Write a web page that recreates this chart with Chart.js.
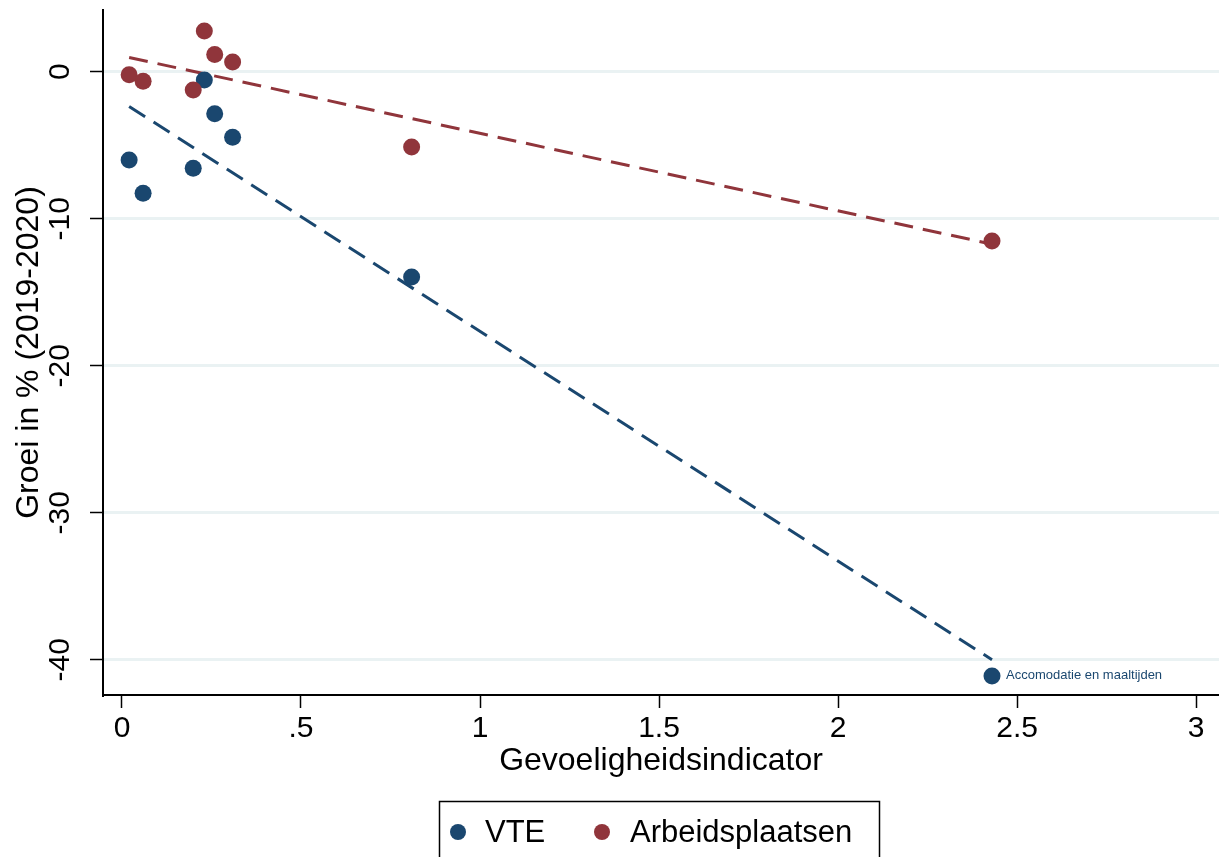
<!DOCTYPE html>
<html><head><meta charset="utf-8">
<script src="https://cdn.jsdelivr.net/npm/chart.js@4"></script>
<style>html,body{margin:0;padding:0;background:#fff;overflow:hidden}</style>
</head><body>
<canvas id="c" width="1219" height="857"></canvas>
<script>
// ---- data ----
const xValues = [0.02, 0.059, 0.23, 0.259, 0.309, 0.199, 0.809, 2.43];
const vteValues = [-6.0, -8.27, -0.56, -2.86, -4.46, -6.57, -13.97, -41.1];
const arbValues = [-0.2, -0.65, 2.77, 1.18, 0.66, -1.24, -5.12, -11.52];
const fitX = [0.02, 2.43];
const vteFit = [-2.36, -40.0];
const arbFit = [0.97, -11.73];
const seriesNames = ['VTE', 'Arbeidsplaatsen'];
const xTicks = [0, 0.5, 1, 1.5, 2, 2.5, 3];
const xTickLabels = ['0', '.5', '1', '1.5', '2', '2.5', '3'];
const yTicks = [0, -10, -20, -30, -40];
const yTickLabels = ['0', '-10', '-20', '-30', '-40'];
const xTitle = 'Gevoeligheidsindicator';
const yTitle = 'Groei in % (2019-2020)';
const pointLabelIndex = 7;
const pointLabelText = 'Accomodatie en maaltijden';

const FONT = "'Liberation Sans', Arial, Helvetica, sans-serif";
const NAVY = '#1a476f', MAROON = '#90353b';

const boxLegend = {
  id: 'boxLegend',
  afterDraw(chart) {
    const ctx = chart.ctx;
    ctx.save();
    ctx.strokeStyle = '#000';
    ctx.lineWidth = 1.5;
    ctx.strokeRect(439.5, 801.5, 440, 80);
    const items = [{dx: 458, tx: 485}, {dx: 602, tx: 630}];
    ctx.font = '31px ' + FONT;
    ctx.textBaseline = 'alphabetic';
    ctx.textAlign = 'left';
    items.forEach((it, i) => {
      const ds = chart.data.datasets[i];
      ctx.fillStyle = ds.backgroundColor;
      ctx.beginPath();
      ctx.arc(it.dx, 832, 8, 0, Math.PI * 2);
      ctx.fill();
      ctx.fillStyle = '#000';
      ctx.fillText(ds.label, it.tx, 842);
    });
    ctx.restore();
  }
};

const pointLabel = {
  id: 'pointLabel',
  afterDatasetsDraw(chart) {
    const el = chart.getDatasetMeta(0).data[pointLabelIndex];
    if (!el) return;
    const ctx = chart.ctx;
    ctx.save();
    ctx.font = '13px ' + FONT;
    ctx.fillStyle = NAVY;
    ctx.textBaseline = 'middle';
    ctx.textAlign = 'left';
    ctx.fillText(pointLabelText, el.x + 14, el.y);
    ctx.restore();
  }
};

new Chart(document.getElementById('c'), {
  type: 'scatter',
  data: {
    datasets: [
      {label: seriesNames[0], data: xValues.map((x, i) => ({x, y: vteValues[i]})),
       backgroundColor: NAVY, borderColor: NAVY, borderWidth: 0, pointRadius: 8.5, pointHoverRadius: 8.5, order: 2},
      {label: seriesNames[1], data: xValues.map((x, i) => ({x, y: arbValues[i]})),
       backgroundColor: MAROON, borderColor: MAROON, borderWidth: 0, pointRadius: 8.5, pointHoverRadius: 8.5, order: 1},
      {type: 'line', label: 'fit ' + seriesNames[0], data: fitX.map((x, i) => ({x, y: vteFit[i]})),
       borderColor: NAVY, backgroundColor: NAVY, borderWidth: 3, borderDash: [19, 10], pointRadius: 0, fill: false, order: 3},
      {type: 'line', label: 'fit ' + seriesNames[1], data: fitX.map((x, i) => ({x, y: arbFit[i]})),
       borderColor: MAROON, backgroundColor: MAROON, borderWidth: 3, borderDash: [19, 10], pointRadius: 0, fill: false, order: 4}
    ]
  },
  options: {
    responsive: false,
    animation: false,
    devicePixelRatio: 1,
    layout: {autoPadding: false, padding: {left: 0, right: 0, top: 10, bottom: 62}},
    plugins: {legend: {display: false}, tooltip: {enabled: false}},
    scales: {
      x: {
        type: 'linear', min: -0.053, max: 3.064,
        afterBuildTicks: s => { s.ticks = xTicks.map(v => ({value: v})); },
        afterFit: s => { s.height = 100; s.paddingLeft = 0; s.paddingRight = 0; },
        ticks: {callback: v => xTickLabels[xTicks.indexOf(v)], font: {family: FONT, size: 30}, color: '#000',
                padding: 3, maxRotation: 0, minRotation: 0, autoSkip: false},
        grid: {drawOnChartArea: false, drawTicks: true, tickLength: 13, tickColor: '#000', tickWidth: 1.5},
        border: {display: true, color: '#000', width: 2},
        title: {display: true, text: xTitle, font: {family: FONT, size: 32}, color: '#000', padding: {top: 0, bottom: 15}}
      },
      y: {
        type: 'linear', min: -42.4, max: 4.2,
        afterBuildTicks: s => { s.ticks = yTicks.map(v => ({value: v})); },
        afterFit: s => { s.width = 103; s.paddingTop = 0; s.paddingBottom = 0; },
        ticks: {callback: v => yTickLabels[yTicks.indexOf(v)], font: {family: FONT, size: 30}, color: '#000',
                padding: 8, minRotation: 90, maxRotation: 90, crossAlign: 'center', autoSkip: false},
        grid: {color: '#eaf2f3', lineWidth: 3, drawTicks: true, tickLength: 13, tickColor: '#000', tickWidth: 1.5},
        border: {display: true, color: '#000', width: 2},
        title: {display: true, text: yTitle, font: {family: FONT, size: 32}, color: '#000', padding: {top: 10, bottom: 0}}
      }
    }
  },
  plugins: [pointLabel, boxLegend]
});
</script>
</body></html>
